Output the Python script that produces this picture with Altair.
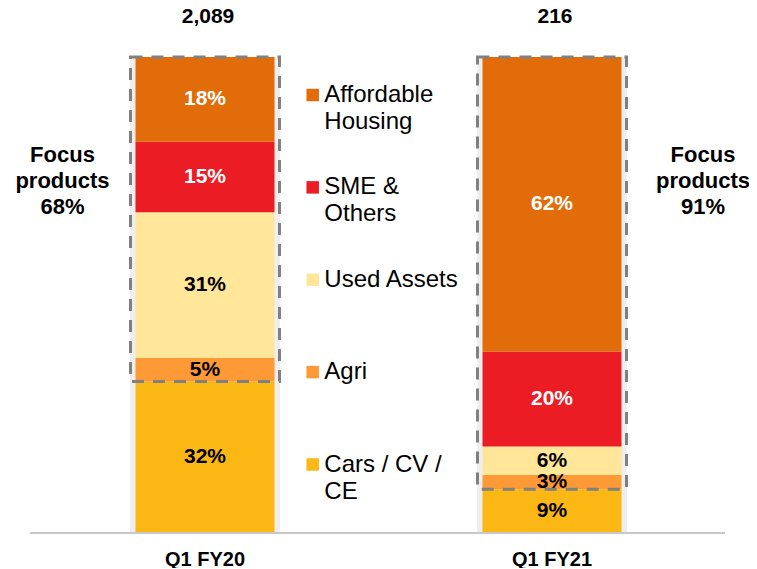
import altair as alt
import pandas as pd

FONT = "Liberation Sans"

periods = ["Q1 FY20", "Q1 FY21"]
totals = [2089, 216]
focus_share = [68, 91]
categories = ["Cars / CV / CE", "Agri", "Used Assets", "SME & Others", "Affordable Housing"]
share_fy20 = [32, 5, 31, 15, 18]
share_fy21 = [9, 3, 6, 20, 62]
legend_labels = ["Cars / CV /\nCE", "Agri", "Used Assets", "SME &\nOthers", "Affordable\nHousing"]
colors = ["#FBB714", "#FD9A36", "#FFE699", "#EC1C24", "#E36C0A"]

rows = []
for p, vals in zip(periods, [share_fy20, share_fy21]):
    for i, (c, v) in enumerate(zip(categories, vals)):
        rows.append({"period": p, "category": c, "order": i, "value": v})
df = pd.DataFrame(rows)

df_p = pd.DataFrame({
    "period": periods,
    "total": [f"{t:,}" for t in totals],
    "focus": [f"Focus\nproducts\n{f}%" for f in focus_share],
})

df_leg = pd.DataFrame({"category": categories, "label": legend_labels})
legend_order = list(reversed(categories))

x_enc = alt.X(
    "period:N",
    sort=periods,
    scale=alt.Scale(domain=periods, paddingInner=0.5994, paddingOuter=0.3674),
    axis=alt.Axis(title=None, ticks=False, domain=False, labelFont=FONT,
                  labelFontSize=20, labelFontWeight="bold", labelColor="black",
                  labelPadding=17, labelAngle=0),
)
yscale = alt.Scale(domain=[0, 1], range=[524, 49])
color_enc = alt.Color("category:N", scale=alt.Scale(domain=categories, range=colors), legend=None)

stacked = alt.Chart(df).transform_stack(
    stack="value", groupby=["period"], as_=["v0", "v1"], offset="normalize",
    sort=[alt.SortField(field="order", order="ascending")],
).transform_calculate(mid="(datum.v0 + datum.v1) / 2", label="datum.value + '%'")

shadow = alt.Chart(df_p).transform_calculate(y0="0", y1="1").mark_bar(
    size=150, color="#eeeeee"
).encode(x=x_enc, y=alt.Y("y0:Q", scale=yscale, axis=None), y2="y1:Q")

bars = stacked.mark_bar().encode(
    x=x_enc, y=alt.Y("v0:Q", scale=yscale, axis=None), y2="v1:Q", color=color_enc
)

box = stacked.transform_filter(alt.datum.order == 0).transform_calculate(top="1").mark_bar(
    size=149, filled=False, stroke="#808080", strokeWidth=3, strokeDash=[12, 9]
).encode(x=x_enc, y=alt.Y("v1:Q", scale=yscale, axis=None), y2="top:Q")

pct = stacked.mark_text(font=FONT, fontSize=21, fontWeight="bold", baseline="middle").encode(
    x=x_enc,
    y=alt.Y("mid:Q", scale=yscale, axis=None),
    text="label:N",
    color=alt.condition(
        alt.FieldOneOfPredicate(field="category", oneOf=["SME & Others", "Affordable Housing"]),
        alt.value("white"), alt.value("black"),
    ),
)

tot = alt.Chart(df_p).mark_text(font=FONT, fontSize=21, fontWeight="bold", baseline="middle",
                                color="black", dx=3).encode(
    x=x_enc, y=alt.value(9), text="total:N"
)

focus_l = alt.Chart(df_p).transform_filter(alt.datum.period == periods[0]).mark_text(
    font=FONT, fontSize=22, fontWeight="bold", lineBreak="\n", lineHeight=26,
    align="center", baseline="alphabetic", dx=-142.5, color="black"
).encode(x=x_enc, y=alt.value(154), text="focus:N")

focus_r = alt.Chart(df_p).transform_filter(alt.datum.period == periods[1]).mark_text(
    font=FONT, fontSize=22, fontWeight="bold", lineBreak="\n", lineHeight=26,
    align="center", baseline="alphabetic", dx=151, color="black"
).encode(x=x_enc, y=alt.value(154), text="focus:N")

base_rule = alt.Chart(df_p).mark_rule(color="#c8c8c8", strokeWidth=2).encode(
    x=alt.value(22), x2=alt.value(717), y=alt.value(525)
)

leg_y = alt.Y("category:N", sort=legend_order,
              scale=alt.Scale(type="point", domain=legend_order, range=[87, 456.5], padding=0),
              axis=None)

leg_sq = alt.Chart(df_leg).mark_square(size=156, opacity=1, filled=True).encode(
    x=alt.value(304.7), y=leg_y, color=color_enc
)
leg_txt = alt.Chart(df_leg).mark_text(
    font=FONT, fontSize=24, lineBreak="\n", lineHeight=27, align="left",
    baseline="alphabetic", dy=7, color="black"
).encode(x=alt.value(316.3), y=leg_y, text="label:N")

main = alt.layer(shadow, bars, box, pct, tot, focus_l, focus_r, base_rule)
legend = alt.layer(leg_sq, leg_txt)

chart = alt.layer(main, legend).resolve_scale(y="independent").properties(
    width=741, height=524,
    autosize=alt.AutoSizeParams(type="none"),
    padding={"left": 0, "top": 0, "right": 0, "bottom": 36},
).configure_view(stroke=None)

chart.save("out.html", embed_options={"renderer": "svg", "actions": False})
